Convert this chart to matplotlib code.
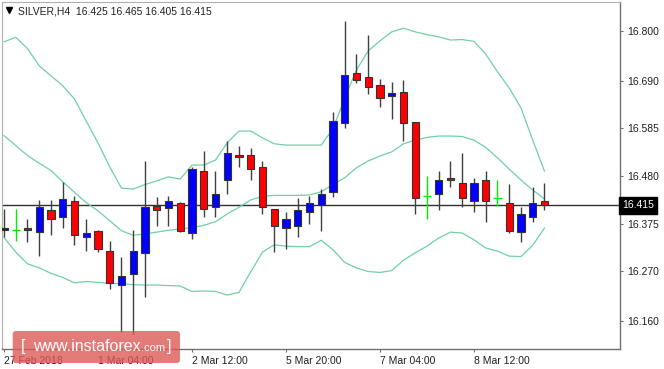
import matplotlib
matplotlib.use("Agg")
import matplotlib.pyplot as plt
from matplotlib.patches import Rectangle, FancyBboxPatch
from matplotlib.lines import Line2D
from matplotlib.transforms import blended_transform_factory

# ---------------- data ----------------
opens = [16.361, 16.360, 16.364, 16.356, 16.405, 16.389, 16.424, 16.345, 16.359, 16.314,
         16.239, 16.264, 16.309, 16.414, 16.410, 16.420, 16.355, 16.491, 16.411, 16.470,
         16.526, 16.526, 16.500, 16.406, 16.364, 16.370, 16.401, 16.416, 16.445, 16.596,
         16.707, 16.698, 16.681, 16.657, 16.666, 16.600, 16.435, 16.440, 16.476, 16.465,
         16.425, 16.470, 16.431, 16.420, 16.356, 16.389, 16.425]
highs = [16.407, 16.406, 16.384, 16.427, 16.427, 16.467, 16.436, 16.384, 16.361, 16.336,
         16.300, 16.361, 16.512, 16.434, 16.436, 16.423, 16.500, 16.536, 16.491, 16.556,
         16.546, 16.541, 16.512, 16.406, 16.401, 16.431, 16.436, 16.451, 16.621, 16.823,
         16.749, 16.791, 16.693, 16.687, 16.692, 16.600, 16.480, 16.491, 16.512, 16.530,
         16.475, 16.491, 16.470, 16.462, 16.412, 16.456, 16.465]
lows = [16.345, 16.336, 16.335, 16.304, 16.350, 16.364, 16.328, 16.314, 16.312, 16.230,
        16.136, 16.131, 16.213, 16.370, 16.370, 16.357, 16.340, 16.390, 16.389, 16.440,
        16.499, 16.470, 16.395, 16.313, 16.319, 16.345, 16.374, 16.359, 16.434, 16.585,
        16.686, 16.660, 16.632, 16.605, 16.556, 16.396, 16.384, 16.405, 16.455, 16.411,
        16.400, 16.379, 16.414, 16.355, 16.335, 16.379, 16.405]
closes = [16.365, 16.360, 16.360, 16.411, 16.384, 16.429, 16.350, 16.355, 16.319, 16.244,
          16.259, 16.314, 16.411, 16.405, 16.425, 16.359, 16.495, 16.406, 16.440, 16.531,
          16.521, 16.495, 16.411, 16.370, 16.384, 16.405, 16.420, 16.440, 16.601, 16.702,
          16.692, 16.676, 16.651, 16.662, 16.596, 16.431, 16.435, 16.470, 16.470, 16.431,
          16.465, 16.425, 16.431, 16.359, 16.396, 16.420, 16.415]

bb_upper = [16.776, 16.786, 16.761, 16.723, 16.701, 16.679, 16.650, 16.601, 16.553, 16.500,
            16.453, 16.451, 16.461, 16.469, 16.478, 16.473, 16.504, 16.504, 16.515, 16.553,
            16.579, 16.579, 16.564, 16.551, 16.548, 16.548, 16.548, 16.548, 16.584, 16.652,
            16.714, 16.756, 16.778, 16.798, 16.806, 16.798, 16.792, 16.787, 16.780, 16.781,
            16.777, 16.749, 16.710, 16.674, 16.630, 16.559, 16.491]
bb_middle = [16.569, 16.547, 16.525, 16.508, 16.492, 16.467, 16.444, 16.421, 16.403, 16.381,
             16.359, 16.349, 16.352, 16.356, 16.360, 16.363, 16.366, 16.371, 16.379, 16.396,
             16.411, 16.427, 16.435, 16.437, 16.437, 16.437, 16.438, 16.445, 16.461, 16.476,
             16.498, 16.513, 16.524, 16.533, 16.551, 16.559, 16.565, 16.568, 16.568, 16.567,
             16.559, 16.543, 16.520, 16.495, 16.471, 16.449, 16.429]
bb_lower = [16.344, 16.312, 16.286, 16.277, 16.265, 16.256, 16.244, 16.247, 16.245, 16.243,
            16.242, 16.240, 16.239, 16.239, 16.238, 16.237, 16.225, 16.226, 16.225, 16.217,
            16.223, 16.268, 16.312, 16.328, 16.325, 16.324, 16.324, 16.338, 16.317, 16.289,
            16.277, 16.269, 16.267, 16.271, 16.294, 16.310, 16.325, 16.343, 16.356, 16.354,
            16.339, 16.321, 16.314, 16.303, 16.302, 16.327, 16.365]

date_tick_idx = [0, 8, 16, 24, 32, 40]
date_labels = ["27 Feb 2018", "1 Mar 04:00", "2 Mar 12:00", "5 Mar 20:00",
               "7 Mar 04:00", "8 Mar 12:00"]
price_ticks = [16.160, 16.270, 16.375, 16.480, 16.585, 16.690, 16.800]
last_price = 16.415
title_text = "SILVER,H4  16.425 16.465 16.405 16.415"

# ---------------- figure ----------------
plt.rcParams["font.family"] = ["Liberation Sans", "DejaVu Sans"]
W, H = 664, 369
fig = plt.figure(figsize=(W / 100, H / 100), dpi=100)
fig.patch.set_facecolor("white")
ax = fig.add_axes([2 / W, 20 / H, 618 / W, 347.5 / H])
ax.set_facecolor("white")

n = len(opens)
xs = list(range(n))
ax.set_xlim(-0.17, 52.43)
ax.set_ylim(16.098, 16.865)

# current price line
ax.axhline(last_price, color="#303030", lw=1.0, zorder=1)

# Bollinger bands
band_col = "#6fd0a6"
for band in (bb_upper, bb_middle, bb_lower):
    ax.plot(xs, band, color=band_col, lw=0.9, zorder=2)

# candles
bw = 0.62
for i in xs:
    o, h, l, c = opens[i], highs[i], lows[i], closes[i]
    if c > o:
        fc = "#0000ff"
    elif c < o:
        fc = "#ff0000"
    else:
        fc = None
    if fc is None:
        ax.vlines(i, l, h, color="#00ee00", lw=1.0, zorder=3)
        ax.hlines(o, i - bw / 2 - 0.05, i + bw / 2 + 0.05, color="#00ee00", lw=1.0, zorder=3)
        continue
    ax.vlines(i, l, h, color="#404040", lw=1.0, zorder=3)
    ax.add_patch(Rectangle((i - bw / 2, min(o, c)), bw, abs(c - o),
                           facecolor=fc, edgecolor="#333333", lw=0.8, zorder=4))

# axes styling
for s in ("left", "top"):
    ax.spines[s].set_color("#b0b0b0")
    ax.spines[s].set_linewidth(0.8)
for s in ("right", "bottom"):
    ax.spines[s].set_color("#707070")
    ax.spines[s].set_linewidth(1.0)

ax.yaxis.tick_right()
ax.set_yticks(price_ticks)
ax.set_yticklabels([f"{v:.3f}" for v in price_ticks])
ax.tick_params(axis="y", direction="out", length=2.5, width=0.8, pad=2.5,
               labelsize=7.5, colors="#707070", labelcolor="#202020")

ax.set_xticks(date_tick_idx)
ax.set_xticklabels(date_labels)
ax.tick_params(axis="x", direction="out", length=2.5, width=0.8, pad=2.5,
               labelsize=7.5, colors="#707070", labelcolor="#202020")
for lab in ax.get_xticklabels():
    lab.set_ha("left")

# current price box
tr = blended_transform_factory(ax.transAxes, ax.transData)
ax.text(1.004, last_price, "16.415", transform=tr, ha="left", va="center",
        fontsize=7.5, color="white", zorder=10, clip_on=False,
        bbox=dict(boxstyle="square,pad=0.3", fc="black", ec="black"))

# title with triangle
fig.add_artist(Line2D([9 / W], [1 - 10 / H], marker="v", markersize=4.5,
                      color="black", transform=fig.transFigure))
fig.text(17.5 / W, 1 - 14 / H, title_text, fontsize=7.5, color="#202020", va="baseline")

# watermark
wm = FancyBboxPatch((0.127, 0.06), 1.673, 0.32,
                    boxstyle="round,pad=0,rounding_size=0.03",
                    transform=fig.dpi_scale_trans, facecolor="#dc5a56",
                    alpha=0.8, edgecolor="none", zorder=20)
fig.add_artist(wm)
fig.text(0.21, 0.175, "[", transform=fig.dpi_scale_trans, fontsize=12, color="white",
         va="baseline", zorder=21)
fig.text(0.33, 0.18, "www.instaforex", transform=fig.dpi_scale_trans, fontsize=11.5,
         color="white", va="baseline", zorder=21)
fig.text(1.41, 0.18, ".com", transform=fig.dpi_scale_trans, fontsize=8,
         color="white", va="baseline", zorder=21)
fig.text(1.67, 0.175, "]", transform=fig.dpi_scale_trans, fontsize=12, color="white",
         va="baseline", zorder=21)

fig.savefig("out.png", dpi=100)
